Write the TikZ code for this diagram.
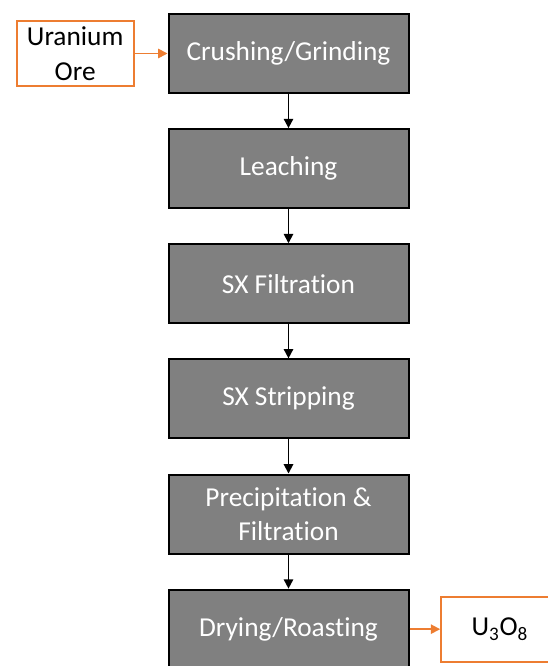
\documentclass[tikz,border=0pt]{standalone}
\usepackage{fontspec}
\setmainfont{Carlito}[Ligatures=NoCommon]
\usepackage{tikz}
\usetikzlibrary{positioning,arrows.meta}

\definecolor{oreorange}{HTML}{ED7D31}
\definecolor{stepgray}{HTML}{808080}

\tikzset{
    stage/.style={rectangle, draw=black, line width=1.5pt, fill=stepgray, text=white,
        minimum width=180pt, minimum height=59.25pt, align=center,
        font=\fontsize{20.5}{26}\selectfont},
    material/.style={rectangle, draw=oreorange, line width=1.5pt, fill=white, text=black,
        minimum width=88pt, minimum height=48.75pt, align=center,
        font=\fontsize{20.5}{26}\selectfont},
    flow/.style={-{Triangle[length=7pt,width=7pt]}, line width=1.3pt, black},
    feed/.style={-{Triangle[length=7pt,width=7pt]}, line width=1.3pt, oreorange}
}

\begin{document}
\begin{tikzpicture}[x=0.75pt, y=-0.75pt]
    \useasboundingbox (0,0) rectangle (548,666);
    % process chain
    \node[stage] (crush) at (288.5,53.5) {Crushing/Grinding};
    \node[stage, below=25.6pt of crush] (leach) {Leaching};
    \node[stage, below=25.6pt of leach] (filt) {SX Filtration};
    \node[stage, below=25.6pt of filt] (strip) {SX Stripping};
    \node[stage, below=25.6pt of strip] (precip) {Precipitation \&\\Filtration};
    \node[stage, below=25.6pt of precip] (dry) {Drying/Roasting};
    % input and product
    \node[material, left=24.5pt of crush] (ore) {Uranium\\Ore};
    \node[material, right=23pt of dry] (prod) {U\textsubscript{3}O\textsubscript{8}};
    \draw[feed] (ore) -- (crush);
    \draw[flow] (crush) -- (leach);
    \draw[flow] (leach) -- (filt);
    \draw[flow] (filt) -- (strip);
    \draw[flow] (strip) -- (precip);
    \draw[flow] (precip) -- (dry);
    \draw[feed] (dry) -- (prod);
\end{tikzpicture}
\end{document}
